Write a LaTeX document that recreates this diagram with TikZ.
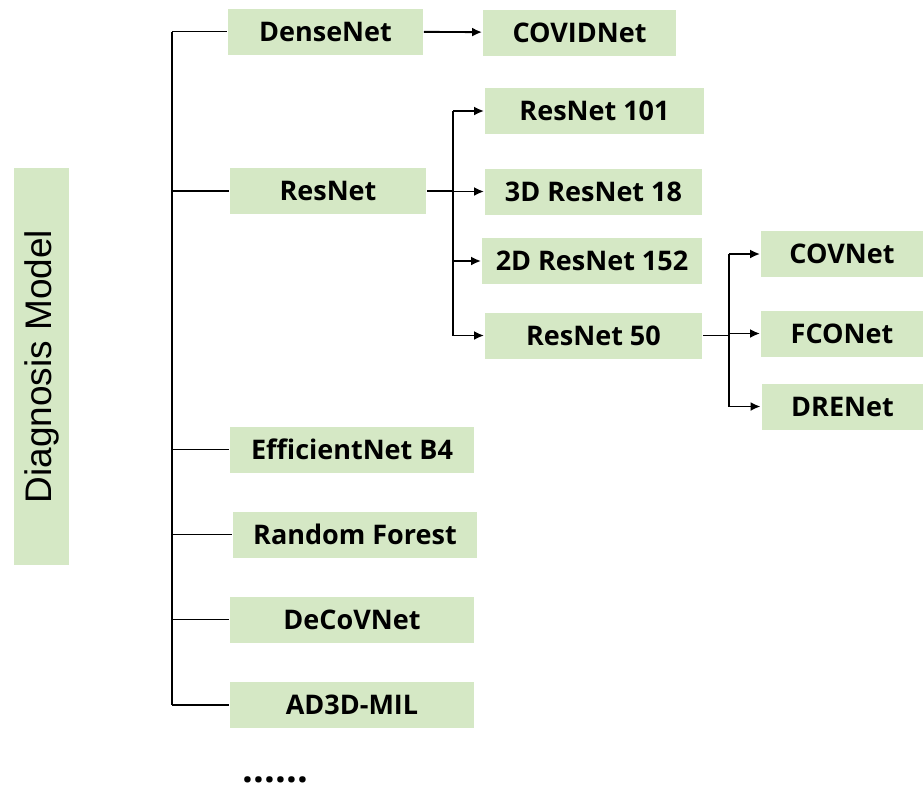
\documentclass[tikz,border=0pt]{standalone}
\usepackage{fontspec}
\setmainfont{Open Sans}
\newfontfamily\titlefont{Liberation Sans}
\usetikzlibrary{arrows.meta}
\definecolor{leaf}{RGB}{213,232,197}
\begin{document}
\begin{tikzpicture}[x=1pt,y=-1pt,line width=1.9pt,
    model/.style={fill=leaf,inner sep=0pt,minimum height=46pt,
      font=\fontsize{27}{30}\selectfont\bfseries},
    link/.style={-{Latex[length=10pt,width=9pt]}}]
  \useasboundingbox (0,0) rectangle (923,790);
  \node[fill=leaf,rotate=90,inner sep=0pt,minimum width=397pt,minimum height=55pt,
    font=\titlefont\fontsize{37}{40}\selectfont] (diag) at (41.5,366.5) {Diagnosis Model};
  % first level
  \node[model,minimum width=195pt] (dense) at (325.5,31.5) {DenseNet};
  \node[model,minimum width=196pt] (resnet) at (328,191) {ResNet};
  \node[model,minimum width=244pt] (eff) at (352,449.5) {EfficientNet B4};
  \node[model,minimum width=244pt] (forest) at (355,534.5) {Random Forest};
  \node[model,minimum width=244pt] (decov) at (352,619.5) {DeCoVNet};
  \node[model,minimum width=244pt] (ad3d) at (352,705) {AD3D-MIL};
  \node[font=\fontsize{38}{38}\selectfont\bfseries,inner sep=0pt,anchor=base] (more)
    at (275.5,782) {......};
  % second level
  \node[model,minimum width=193pt] (covid) at (579.5,32.5) {COVIDNet};
  \node[model,minimum width=219pt] (r101) at (594.5,111) {ResNet 101};
  \node[model,minimum width=217pt] (r3d) at (593.5,191.5) {3D ResNet 18};
  \node[model,minimum width=220pt] (r2d) at (592,261) {2D ResNet 152};
  \node[model,minimum width=217pt] (r50) at (593.5,335.5) {ResNet 50};
  % third level
  \node[model,minimum width=162pt] (covnet) at (842,254) {COVNet};
  \node[model,minimum width=162pt] (fconet) at (842,333.5) {FCONet};
  \node[model,minimum width=162pt] (drenet) at (842.5,406.5) {DRENet};

  \coordinate (trunk) at (172,0);
  \coordinate (fork) at (453,0);
  \coordinate (fork2) at (729,0);
  \draw (trunk |- dense) -- (trunk |- ad3d);
  \foreach \n in {dense,resnet,eff,forest,decov,ad3d}
    \draw (trunk |- \n) -- (\n.west);
  \draw[link] (dense) -- (covid);
  \draw (fork |- r101) -- (fork |- r50);
  \draw (resnet) -- (fork |- resnet);
  \foreach \n in {r101,r3d,r2d,r50}
    \draw[link] (fork |- \n) -- (\n.west);
  \draw (fork2 |- covnet) -- (fork2 |- drenet);
  \draw (r50) -- (fork2 |- r50);
  \foreach \n in {covnet,fconet,drenet}
    \draw[link] (fork2 |- \n) -- (\n.west);
\end{tikzpicture}
\end{document}
